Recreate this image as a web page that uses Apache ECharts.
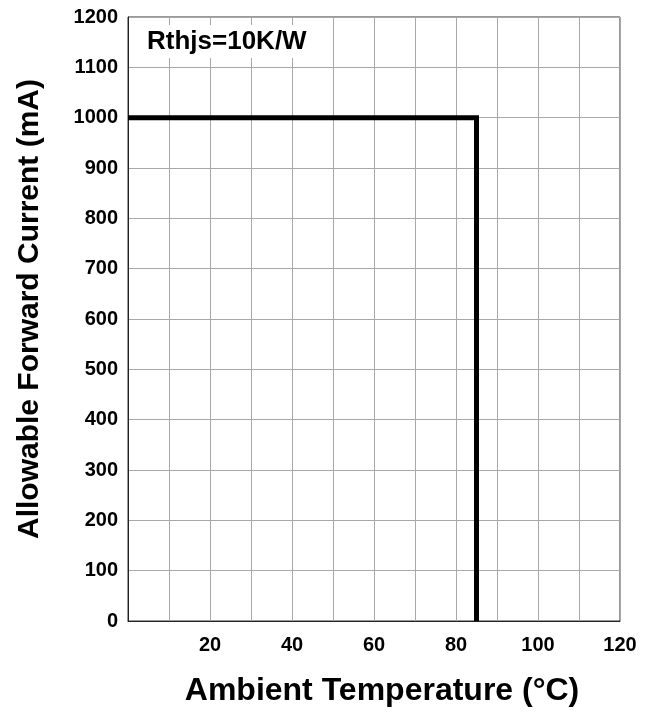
<!DOCTYPE html>
<html>
<head>
<meta charset="utf-8">
<script src="https://cdn.jsdelivr.net/npm/echarts@6/dist/echarts.min.js"></script>
<style>html,body{margin:0;padding:0;background:#fff}#c{width:658px;height:714px}</style>
</head>
<body>
<div id="c"></div>
<script>
var temperature = [0, 85, 85];
var current = [1000, 1000, 0];
var xTitle = 'Ambient Temperature (°C)';
var yTitle = 'Allowable Forward Current (mA)';
var note = 'Rthjs=10K/W';

var font = 'Liberation Sans, Arial, sans-serif';
var chart = echarts.init(document.getElementById('c'));
chart.setOption({
  animation: false,
  backgroundColor: '#fff',
  grid: { left: 128, right: 38, top: 17, bottom: 93, show: true, borderColor: '#333', borderWidth: 1 },
  xAxis: {
    type: 'value', min: 0, max: 120, interval: 10,
    axisLine: { show: true, lineStyle: { color: '#222', width: 1 } },
    axisTick: { show: false },
    splitLine: { show: true, lineStyle: { color: '#a8a8a8', width: 1 } },
    axisLabel: {
      margin: 14, color: '#000', fontFamily: font, fontWeight: 'bold', fontSize: 20,
      formatter: function (v) { return (v !== 0 && v % 20 === 0) ? String(v) : ''; }
    }
  },
  yAxis: {
    type: 'value', min: 0, max: 1200, interval: 100,
    axisLine: { show: true, lineStyle: { color: '#222', width: 1 } },
    axisTick: { show: false },
    splitLine: { show: true, lineStyle: { color: '#a8a8a8', width: 1 } },
    axisLabel: { margin: 10, color: '#000', fontFamily: font, fontWeight: 'bold', fontSize: 20,
      formatter: function (v) { return String(v); } }
  },
  series: [{
    type: 'line',
    data: temperature.map(function (t, i) { return [t, current[i]]; }),
    symbol: 'none',
    lineStyle: { color: '#000', width: 5, join: 'miter' },
    z: 5
  }],
  graphic: [
    { type: 'rect', z: 100, shape: { x: 129, y: 25, width: 180, height: 33 }, style: { fill: '#fff' } },
    { type: 'text', z: 101, x: 147, y: 42, style: { text: note, font: 'bold 26px ' + font, fill: '#000', textAlign: 'left', textVerticalAlign: 'middle' } },
    { type: 'text', z: 101, x: 30, y: 309, rotation: Math.PI / 2, style: { text: yTitle, font: 'bold 30px ' + font, fill: '#000', textAlign: 'center', textVerticalAlign: 'middle' } },
    { type: 'text', z: 101, x: 382, y: 691, style: { text: xTitle, font: 'bold 32px ' + font, fill: '#000', textAlign: 'center', textVerticalAlign: 'middle' } }
  ]
});
</script>
</body>
</html>
